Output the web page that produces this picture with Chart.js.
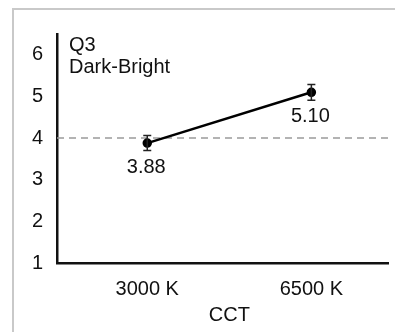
<!DOCTYPE html>
<html>
<head>
<meta charset="utf-8">
<script src="https://cdn.jsdelivr.net/npm/chart.js@4.4.0/dist/chart.umd.min.js"></script>
<style>
  html, body { margin: 0; padding: 0; background: #fff; }
</style>
</head>
<body>
<canvas id="chart-cct" width="395" height="332"></canvas>
<script>
// =====================================================
// Q3 (Dark-Bright) según temperatura de color (CCT)
// =====================================================

// Datos del gráfico
const categorias = ['3000 K', '6500 K'];
const medias = [3.88, 5.10];
const errores = [0.18, 0.19];
const ticksY = [1, 2, 3, 4, 5, 6];
const lineaReferencia = 4;
const textoPregunta = ['Q3', 'Dark-Bright'];
const tituloX = 'CCT';

const ESTILO = {
  fuente: '"Liberation Sans", Arial, sans-serif',
  tamano: 20,
  colorTexto: '#111',
  colorEje: '#111',
  colorPunteada: '#9a9a9a',
  colorMarco: '#c9c9c9',
};

/** Marco, línea punteada, barras de error y rótulos */
const pluginDecoracion = {
  id: 'decoracion',
  beforeDraw(chart) {
    const ctx = chart.ctx;
    ctx.save();
    ctx.strokeStyle = ESTILO.colorMarco;
    ctx.lineWidth = 2;
    ctx.beginPath();
    ctx.moveTo(13, chart.height);
    ctx.lineTo(13, 9);
    ctx.lineTo(chart.width, 9);
    ctx.stroke();
    ctx.restore();
  },
  beforeDatasetsDraw(chart) {
    const { ctx, chartArea, scales } = chart;
    const y = scales.y.getPixelForValue(lineaReferencia);
    ctx.save();
    ctx.strokeStyle = ESTILO.colorPunteada;
    ctx.lineWidth = 1.5;
    ctx.setLineDash([7, 5]);
    ctx.beginPath();
    ctx.moveTo(chartArea.left, y);
    ctx.lineTo(chartArea.right, y);
    ctx.stroke();
    ctx.restore();
  },
  afterDatasetsDraw(chart) {
    const { ctx, chartArea, scales } = chart;
    ctx.save();
    // barras de error
    ctx.strokeStyle = '#222';
    ctx.lineWidth = 1.5;
    medias.forEach((m, i) => {
      const x = scales.x.getPixelForValue(i);
      const y1 = scales.y.getPixelForValue(m + errores[i]);
      const y2 = scales.y.getPixelForValue(m - errores[i]);
      ctx.beginPath();
      ctx.moveTo(x, y1); ctx.lineTo(x, y2);
      ctx.moveTo(x - 4, y1); ctx.lineTo(x + 4, y1);
      ctx.moveTo(x - 4, y2); ctx.lineTo(x + 4, y2);
      ctx.stroke();
    });

    // valores debajo de cada punto
    ctx.fillStyle = ESTILO.colorTexto;
    ctx.font = ESTILO.tamano + 'px ' + ESTILO.fuente;
    ctx.textAlign = 'center';
    ctx.textBaseline = 'middle';
    medias.forEach((m, i) => {
      const x = scales.x.getPixelForValue(i);
      const y = scales.y.getPixelForValue(m);
      ctx.fillText(m.toFixed(2), x - 1, y + 24);
    });

    // título del eje x, centrado entre las dos categorías
    ctx.fillText(tituloX, scales.x.getPixelForValue(0.5), chartArea.bottom + 52);

    // rótulo de la pregunta
    ctx.textAlign = 'left';
    textoPregunta.forEach((t, i) => {
      ctx.fillText(t, chartArea.left + 12, chartArea.top + 11 + i * 22);
    });
    ctx.restore();
  },
};

new Chart(document.getElementById('chart-cct'), {
  type: 'line',
  data: {
    datasets: [{
      data: medias.map((m, i) => ({ x: i, y: m })),
      borderColor: '#000',
      borderWidth: 2.5,
      pointBackgroundColor: '#000',
      pointBorderColor: '#000',
      pointRadius: 3.5,
      tension: 0,
    }],
  },
  options: {
    responsive: false,
    animation: false,
    devicePixelRatio: 1,
    layout: { padding: { top: 34, right: 3, left: 0, bottom: 0 } },
    plugins: { legend: { display: false }, tooltip: { enabled: false } },
    scales: {
      x: {
        type: 'linear',
        min: -0.55,
        max: 1.47,
        afterBuildTicks: s => { s.ticks = categorias.map((_, i) => ({ value: i })); },
        afterFit: s => { s.height = 69; },
        ticks: {
          callback: v => categorias[v],
          color: ESTILO.colorTexto,
          font: { family: ESTILO.fuente, size: ESTILO.tamano },
          padding: 14,
          maxRotation: 0,
        },
        grid: { display: false, drawTicks: false },
        border: { display: true, color: ESTILO.colorEje, width: 2.5 },
      },
      y: {
        min: 1,
        max: 6.5,
        afterBuildTicks: s => { s.ticks = ticksY.map(v => ({ value: v })); },
        afterFit: s => { s.width = 57; },
        ticks: {
          color: ESTILO.colorTexto,
          font: { family: ESTILO.fuente, size: ESTILO.tamano },
          padding: 14,
        },
        grid: { display: false, drawTicks: false },
        border: { display: true, color: ESTILO.colorEje, width: 2.5 },
      },
    },
  },
  plugins: [pluginDecoracion],
});
</script>
</body>
</html>
